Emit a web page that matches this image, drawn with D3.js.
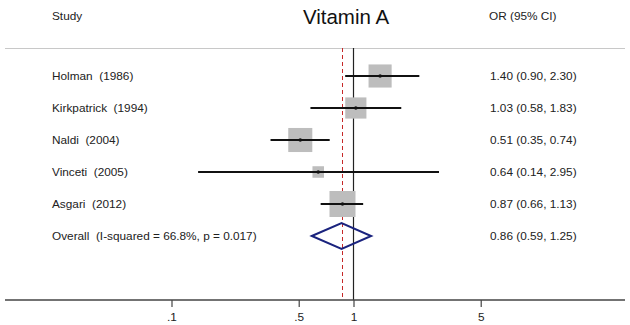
<!DOCTYPE html>
<html><head><meta charset="utf-8">
<script src="https://cdn.jsdelivr.net/npm/d3@7"></script>
<style>
html,body{margin:0;padding:0;background:#fff;}
svg{display:block;font-family:"Liberation Sans",Arial,Helvetica,sans-serif;}
svg text{white-space:pre;}
</style></head>
<body>
<svg id="c" width="630" height="325"></svg>
<script>
const studies = ["Holman  (1986)","Kirkpatrick  (1994)","Naldi  (2004)","Vinceti  (2005)","Asgari  (2012)"];
const orValues = [1.40, 1.03, 0.51, 0.64, 0.87];
const lowerCI = [0.90, 0.58, 0.35, 0.14, 0.66];
const upperCI = [2.30, 1.83, 0.74, 2.95, 1.13];
const weights = [22.5, 18.9, 24.4, 5.6, 28.5];
const overallLabel = "Overall  (I-squared = 66.8%, p = 0.017)";
const overall = [0.86, 0.59, 1.25];
const tickValues = [0.1, 0.5, 1, 5];
const tickLabels = [".1", ".5", "1", "5"];
const fmt = d3.format(".2f");

const FS = 11.8;
const svg = d3.select("#c");
const x = d3.scaleLog().domain([0.1, 10]).range([171.5, 535.5]);
const y = d3.scaleLinear().domain([0, 5]).range([76, 236]);
const boxSide = d3.scaleSqrt().domain([0, 28.5]).range([0, 26]);

// headers
svg.append("text").attr("x", 52).attr("y", 20).attr("font-size", FS).attr("fill", "#222").text("Study");
svg.append("text").attr("x", 346).attr("y", 24).attr("text-anchor", "middle").attr("font-size", 20.5).attr("fill", "#111").text("Vitamin A");
svg.append("text").attr("x", 489).attr("y", 20).attr("font-size", FS).attr("fill", "#222").text("OR (95% CI)");

// top separator
svg.append("line").attr("x1", 5).attr("x2", 625).attr("y1", 48.5).attr("y2", 48.5).attr("stroke", "#c8c8c8").attr("stroke-width", 1);

// vertical reference lines
const x1 = Math.round(x(1)) + 0.5;
const xo = Math.round(x(overall[0])) + 0.5;
svg.append("line").attr("x1", x1).attr("x2", x1).attr("y1", 48).attr("y2", 300).attr("stroke", "#222").attr("stroke-width", 1.2);
svg.append("line").attr("x1", xo).attr("x2", xo).attr("y1", 48).attr("y2", 300)
  .attr("stroke", "#c62828").attr("stroke-width", 1).attr("stroke-dasharray", "4,3");

// boxes
const g = svg.append("g");
studies.forEach((s, i) => {
  const side = boxSide(weights[i]);
  g.append("rect").attr("x", x(orValues[i]) - side/2).attr("y", y(i) - side/2)
    .attr("width", side).attr("height", side).attr("fill", "#bdbdbd");
});
studies.forEach((s, i) => {
  g.append("line").attr("x1", x(lowerCI[i])).attr("x2", x(upperCI[i])).attr("y1", y(i)).attr("y2", y(i))
    .attr("stroke", "#111").attr("stroke-width", 2);
  g.append("circle").attr("cx", x(orValues[i])).attr("cy", y(i)).attr("r", 1.8).attr("fill", "#111");
  svg.append("text").attr("x", 52).attr("y", y(i) + 4).attr("font-size", FS).attr("fill", "#222").text(s);
  svg.append("text").attr("x", 490).attr("y", y(i) + 4).attr("font-size", FS).attr("fill", "#222")
    .text(`${fmt(orValues[i])} (${fmt(lowerCI[i])}, ${fmt(upperCI[i])})`);
});

// overall diamond
const yo = y(5);
svg.append("path")
  .attr("d", `M${x(overall[1])},${yo} L${x(overall[0])},${yo-13} L${x(overall[2])},${yo} L${x(overall[0])},${yo+13} Z`)
  .attr("fill", "none").attr("stroke", "#1a237e").attr("stroke-width", 2);
svg.append("text").attr("x", 52).attr("y", yo + 4).attr("font-size", FS).attr("fill", "#222").text(overallLabel);
svg.append("text").attr("x", 490).attr("y", yo + 4).attr("font-size", FS).attr("fill", "#222")
  .text(`${fmt(overall[0])} (${fmt(overall[1])}, ${fmt(overall[2])})`);

// axis
const axis = d3.axisBottom(x).tickValues(tickValues).tickFormat((d, i) => tickLabels[i]).tickSize(7).tickPadding(6);
const ag = svg.append("g").attr("transform", "translate(0,300)").call(axis);
ag.select(".domain").remove();
ag.selectAll(".tick line").attr("stroke", "#444").attr("stroke-width", 1.2);
ag.selectAll(".tick text").attr("font-size", FS).attr("fill", "#222").attr("font-family", "Liberation Sans, Arial, sans-serif");
svg.append("line").attr("x1", 5).attr("x2", 625).attr("y1", 300).attr("y2", 300).attr("stroke", "#444").attr("stroke-width", 1.5);
</script>
</body></html>
